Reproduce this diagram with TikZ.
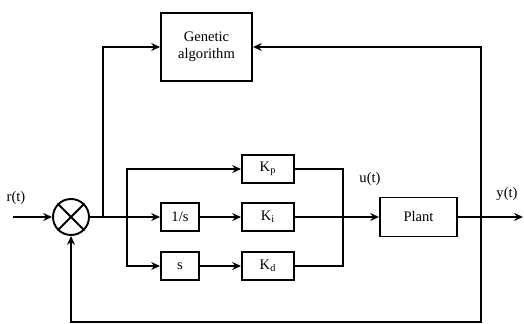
\documentclass[tikz,border=0pt]{standalone}
\usepackage{fontspec}
\setmainfont{Liberation Serif}
\usetikzlibrary{arrows.meta,positioning,calc}

\begin{document}
\begin{tikzpicture}[
    x=0.02cm, y=-0.02cm,
    block/.style={draw, line width=1.1pt, minimum width=1.04cm, minimum height=0.56cm, align=center, font=\fontsize{8.3}{9.5}\selectfont, inner sep=1pt},
    arr/.style={-{Stealth[length=5pt,width=4.5pt]}, line width=1.1pt},
    ln/.style={line width=1.1pt},
    lbl/.style={font=\fontsize{8.3}{9.5}\selectfont, inner sep=0pt}
]
\useasboundingbox (0,0) rectangle (524,324);
% blocks
\node[block, minimum width=1.82cm, minimum height=1.36cm] (ga) at (206.5,47) {Genetic\\algorithm};
\node[draw, circle, line width=1.1pt, minimum size=0.72cm, inner sep=0pt] (sum) at (71,217) {};
\node[block, minimum width=0.76cm] (inv) at (180,217) {1/s};
\node[block, minimum width=0.76cm] (der) at (180,266) {s};
\node[block] (kp) at (268,169) {K\textsubscript{p}};
\node[block] (ki) at (268,217) {K\textsubscript{i}};
\node[block] (kd) at (268,266) {K\textsubscript{d}};
\node[block, minimum width=1.54cm, minimum height=0.78cm] (plant) at (418.5,217) {Plant};

% points on the lines
\coordinate (in) at (13,217);
\coordinate (out) at (523,217);
\coordinate (tga) at (103,217);
\coordinate (split) at (127,217);
\coordinate (join) at (343,217);
\coordinate (tap) at (481,217);
\coordinate (fb) at (481,322);

\draw[ln] (sum.north west) -- (sum.south east);
\draw[ln] (sum.north east) -- (sum.south west);

\draw[arr] (in) -- (sum);
\draw[arr] (sum) -- (inv);
\draw[arr] (tga) |- (ga.west);
\draw[arr] (split) |- (kp.west);
\draw[arr] (split) |- (der.west);
\draw[arr] (inv) -- (ki);
\draw[arr] (der) -- (kd);
\draw[ln] (kp.east) -| (join);
\draw[ln] (kd.east) -| (join);
\draw[arr] (ki) -- (plant);
\draw[arr] (plant) -- (out);
\draw[arr] (tap) |- (ga.east);
\draw[arr] (tap) -- (fb) -| (sum.south);

\node[lbl] (rl) at (16,198) {r(t)};
\node[lbl] (ul) at (370,179) {u(t)};
\node[lbl] (yl) at (507,194) {y(t)};
\end{tikzpicture}
\end{document}
